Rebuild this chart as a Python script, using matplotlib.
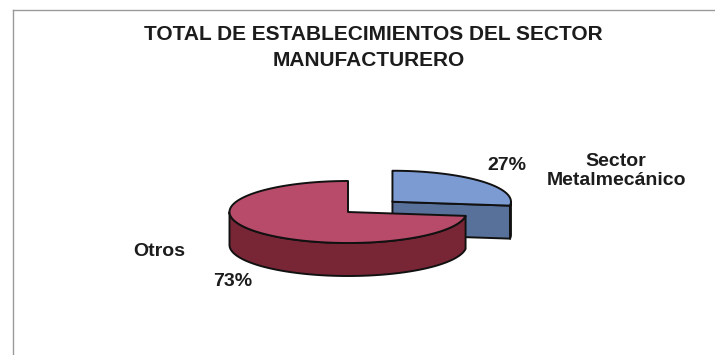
import numpy as np
import matplotlib
matplotlib.use("Agg")
import matplotlib.pyplot as plt
from matplotlib.patches import Polygon

plt.rcParams['font.family'] = ['Liberation Sans', 'DejaVu Sans']

# ---- data ----
title_lines = ["TOTAL DE ESTABLECIMIENTOS DEL SECTOR", "MANUFACTURERO"]
categories = ["Sector\nMetalmecánico", "Otros"]
values = [27, 73]
explode = [0.5, 0.0]
top_colors = ["#7c9bd3", "#b74b69"]
side_colors = ["#58719a", "#782636"]

# ---- layout (pixel space) ----
W, H = 715, 355
fig = plt.figure(figsize=(W / 100, H / 100), dpi=100)
ax = fig.add_axes([0, 0, 1, 1])
ax.set_xlim(0, W)
ax.set_ylim(H, 0)
ax.axis("off")

cx, cy = 348, 212      # pie center (screen)
rx, ry = 118.5, 31     # ellipse radii
depth = 33             # thickness
edge = "#111111"
lw = 1.4


def pt(theta_deg, r=1.0, ox=0.0, oy=0.0, dz=0.0):
    t = np.deg2rad(theta_deg)
    return cx + ox + r * rx * np.cos(t), cy + oy - r * ry * np.sin(t) + dz


def draw_slice(t1, t2, ex, ctop, cside, zbase):
    mid = np.deg2rad((t1 + t2) / 2)
    ox = ex * rx * np.cos(mid)
    oy = -ex * ry * np.sin(mid)
    c = (cx + ox, cy + oy)
    # radial faces (only those turned towards the viewer)
    if np.cos(np.deg2rad(t1)) > 1e-6:
        p = pt(t1, 1, ox, oy)
        poly = [c, p, (p[0], p[1] + depth), (c[0], c[1] + depth)]
        ax.add_patch(Polygon(poly, closed=True, fc=cside, ec=edge, lw=lw, zorder=zbase))
    if np.cos(np.deg2rad(t2)) < -1e-6:
        p = pt(t2, 1, ox, oy)
        poly = [c, p, (p[0], p[1] + depth), (c[0], c[1] + depth)]
        ax.add_patch(Polygon(poly, closed=True, fc=cside, ec=edge, lw=lw, zorder=zbase))
    # outer front side: angles where sin < 0
    for k in range(-1, 2):
        a = max(t1, 180 + 360 * k)
        b = min(t2, 360 + 360 * k)
        if b > a:
            ts = np.linspace(a, b, 120)
            top = [pt(t, 1, ox, oy) for t in ts]
            bot = [pt(t, 1, ox, oy, depth) for t in ts[::-1]]
            ax.add_patch(Polygon(top + bot, closed=True, fc=cside, ec=edge, lw=lw,
                                 joinstyle="round", zorder=zbase + 0.1))
    # top face
    ts = np.linspace(t1, t2, 300)
    poly = [c] + [pt(t, 1, ox, oy) for t in ts]
    ax.add_patch(Polygon(poly, closed=True, fc=ctop, ec=edge, lw=lw,
                         joinstyle="round", zorder=zbase + 0.2))


total = float(sum(values))
start = 90.0
angles = []
for v in values:
    span = 360.0 * v / total
    angles.append((start - span, start))
    start -= span

# draw back (exploded blue) first, then front
for i in [0, 1]:
    t1, t2 = angles[i]
    draw_slice(t1, t2, explode[i], top_colors[i], side_colors[i], zbase=2 + 2 * i)

# ---- labels ----
txt = dict(fontsize=14, fontweight="bold", color="#1c1c1c", ha="center", va="center")
pct = [f"{round(100 * v / total)}%" for v in values]
ax.text(507, 165, pct[0], **txt)
ax.text(616, 171, categories[0], linespacing=1.15, **txt)
ax.text(159, 251, categories[1], **txt)
ax.text(233, 281, pct[1], **txt)

# ---- title ----
ttl = dict(fontsize=15, fontweight="bold", color="#1c1c1c", ha="center", va="center")
ax.text(373, 35, title_lines[0], **ttl)
ax.text(369, 60, title_lines[1], **ttl)

# ---- frame (top and left border) ----
ax.plot([13, W], [10, 10], color="#9a9a9a", lw=1.0, zorder=1)
ax.plot([13, 13], [10, H], color="#9a9a9a", lw=1.0, zorder=1)

fig.savefig("out.png", dpi=100, facecolor="white")
